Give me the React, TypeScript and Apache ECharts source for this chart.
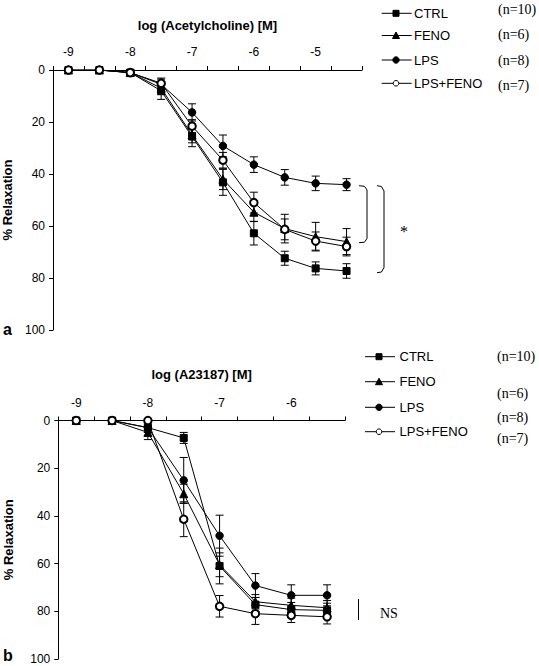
import React, { useEffect, useRef } from 'react';
import * as echarts from 'echarts';

// ---- Panel a: Acetylcholine ----
const catsA = ['-9', '-8.5', '-8', '-7.5', '-7', '-6.5', '-6', '-5.5', '-5', '-4.5'];
const ctrlA = [0, 0, 1, 8, 25.6, 43.2, 62.8, 72.4, 76.3, 77.3];
const ctrlAErr = [0, 0, 1, 3.3, 3.9, 5, 4.5, 2.7, 2.5, 2.8];
const fenoA = [0, 0, 1, 7, 25, 42, 54.7, 61, 64.1, 66];
const fenoAErr = [0, 0, 1, 2.5, 3, 4, 3.5, 5.5, 5.5, 5];
const lpsA = [0, 0, 1, 5.5, 16.3, 29.2, 36.4, 41.3, 43.6, 44.1];
const lpsAErr = [0, 0, 1, 2, 3.3, 4.2, 3, 3, 2.8, 2.3];
const lpsFenoA = [0, 0, 1, 5.1, 21.6, 34.7, 51, 61.3, 65.8, 67.9];
const lpsFenoAErr = [0, 0, 1, 2, 2.5, 3, 4, 4, 3.5, 3.6];

// ---- Panel b: A23187 ----
const catsB = ['-9', '-8.5', '-8', '-7.5', '-7', '-6.5', '-6', '-5.5'];
const ctrlB = [0, 0, 3, 7.3, 61, 77.2, 79.3, 79.6];
const ctrlBErr = [0, 0, 2, 2.3, 7.5, 3, 3, 3];
const fenoB = [0, 0, 5, 30.7, 60.5, 76, 77.5, 78.5];
const fenoBErr = [0, 0, 3, 4, 5, 3, 3, 3];
const lpsB = [0, 0, 3, 25.1, 48.3, 69.2, 73.3, 73.3];
const lpsBErr = [0, 0, 2, 9.6, 8.6, 5, 4.4, 4.4];
const lpsFenoB = [0, 0, 0, 41.4, 77.9, 81, 81.7, 82.3];
const lpsFenoBErr = [0, 0, 0, 7.3, 4.5, 4.5, 3, 3];

const seriesNames = ['CTRL', 'FENO', 'LPS', 'LPS+FENO'];
const nLabels = ['(n=10)', '(n=6)', '(n=8)', '(n=7)'];
const yTicks = [0, 20, 40, 60, 80, 100];

const SANS = 'Arial, "Liberation Sans", sans-serif';
const SERIF = '"Times New Roman", "Liberation Serif", serif';

const symbols: Record<string, { symbol: string; size: number }> = {
  CTRL: { symbol: 'rect', size: 7 },
  FENO: { symbol: 'triangle', size: 8 },
  LPS: { symbol: 'circle', size: 7.5 },
  'LPS+FENO': { symbol: 'emptyCircle', size: 7.5 },
};

function lineSeries(name: string, idx: number, vals: number[]) {
  const s = symbols[name];
  return {
    type: 'line',
    name,
    xAxisIndex: idx,
    yAxisIndex: idx,
    data: vals,
    symbol: s.symbol,
    symbolSize: s.size,
    showAllSymbol: true,
    lineStyle: { color: '#000', width: 1 },
    itemStyle: { color: '#000', borderColor: '#000', borderWidth: 1 },
    z: 3,
    silent: true,
  };
}

function errSeries(name: string, idx: number, vals: number[], errs: number[]) {
  return {
    type: 'custom',
    name: name + ' SEM',
    xAxisIndex: idx,
    yAxisIndex: idx,
    data: vals.map((v, i) => [i, v, errs[i]]),
    encode: { x: 0, y: 1 },
    silent: true,
    z: 2,
    renderItem: (params: any, api: any) => {
      const i = api.value(0);
      const v = api.value(1);
      const e = api.value(2);
      if (!e) return null;
      const p1 = api.coord([i, v - e]);
      const p2 = api.coord([i, v + e]);
      const hw = 4;
      const st = { stroke: '#000', lineWidth: 1 };
      return {
        type: 'group',
        children: [
          { type: 'line', shape: { x1: p1[0], y1: p1[1], x2: p2[0], y2: p2[1] }, style: st },
          { type: 'line', shape: { x1: p1[0] - hw, y1: p1[1], x2: p1[0] + hw, y2: p1[1] }, style: st },
          { type: 'line', shape: { x1: p2[0] - hw, y1: p2[1], x2: p2[0] + hw, y2: p2[1] }, style: st },
        ],
      };
    },
  };
}

function xAxisCfg(cats: string[], idx: number, name: string, gap: number) {
  return {
    type: 'category',
    gridIndex: idx,
    position: 'top',
    data: cats,
    boundaryGap: true,
    name,
    nameLocation: 'middle',
    nameGap: gap,
    nameTextStyle: { fontFamily: SANS, fontSize: 13, fontWeight: 'bold', color: '#000' },
    axisLine: { show: true, lineStyle: { color: '#000', width: 1 } },
    axisTick: { show: true, interval: 0, alignWithLabel: false, length: 4, lineStyle: { color: '#000' } },
    axisLabel: {
      interval: 0,
      margin: 12,
      fontFamily: SANS,
      fontSize: 12,
      color: '#000',
      formatter: (v: string) => (Number.isInteger(Number(v)) ? v : ''),
    },
    splitLine: { show: false },
  };
}

function yAxisCfg(idx: number, gap: number) {
  return {
    type: 'value',
    gridIndex: idx,
    inverse: true,
    min: yTicks[0],
    max: yTicks[yTicks.length - 1],
    interval: 20,
    name: '% Relaxation',
    nameLocation: 'middle',
    nameGap: gap,
    nameRotate: 90,
    nameTextStyle: { fontFamily: SANS, fontSize: 13, fontWeight: 'bold', color: '#000' },
    axisLine: { show: true, lineStyle: { color: '#000', width: 1 } },
    axisTick: { show: true, length: 4, lineStyle: { color: '#000' } },
    axisLabel: { margin: 8, fontFamily: SANS, fontSize: 12, color: '#000' },
    splitLine: { show: false },
  };
}

// Legend drawn as graphic: line + marker + label + (n=..)
function legendMarker(name: string, cx: number, cy: number): any {
  const st = { fill: '#000', stroke: '#000', lineWidth: 1 };
  if (name === 'CTRL') return { type: 'rect', shape: { x: cx - 3, y: cy - 3, width: 6, height: 6 }, style: st };
  if (name === 'FENO')
    return { type: 'polygon', shape: { points: [[cx, cy - 3.5], [cx + 3.5, cy + 3], [cx - 3.5, cy + 3]] }, style: st };
  if (name === 'LPS') return { type: 'circle', shape: { cx, cy, r: 3.2 }, style: st };
  return { type: 'circle', shape: { cx, cy, r: 2.8 }, style: { fill: '#fff', stroke: '#000', lineWidth: 1 } };
}

function legendBlock(x1: number, x2: number, mx: number, tx: number, ys: number[], nx: number, nys: number[]) {
  const out: any[] = [];
  seriesNames.forEach((name, i) => {
    const y = ys[i];
    out.push({ type: 'line', shape: { x1, y1: y, x2, y2: y }, style: { stroke: '#000', lineWidth: 1 } });
    out.push(legendMarker(name, mx, y));
    out.push({ type: 'text', x: tx, y, style: { text: name, font: `13px ${SANS}`, fill: '#000', verticalAlign: 'middle' } });
    out.push({ type: 'text', x: nx, y: nys[i], style: { text: nLabels[i], font: `14px ${SERIF}`, fill: '#000', verticalAlign: 'middle' } });
  });
  return out;
}

export default function App() {
  const ref = useRef<HTMLDivElement>(null);
  useEffect(() => {
    if (!ref.current) return;
    const chart = echarts.init(ref.current, undefined, { renderer: 'svg' });
    const dataA = [ctrlA, fenoA, lpsA, lpsFenoA];
    const errA = [ctrlAErr, fenoAErr, lpsAErr, lpsFenoAErr];
    const dataB = [ctrlB, fenoB, lpsB, lpsFenoB];
    const errB = [ctrlBErr, fenoBErr, lpsBErr, lpsFenoBErr];
    const series: any[] = [];
    seriesNames.forEach((n, k) => {
      series.push(errSeries(n, 0, dataA[k], errA[k]));
      series.push(lineSeries(n, 0, dataA[k]));
      series.push(errSeries(n, 1, dataB[k], errB[k]));
      series.push(lineSeries(n, 1, dataB[k]));
    });

    const bracketStyle = { stroke: '#000', lineWidth: 1, fill: 'none' };
    const graphic: any[] = [
      { type: 'text', left: 3, top: 321, style: { text: 'a', font: `bold 16px ${SANS}`, fill: '#000' } },
      { type: 'text', left: 3, top: 647, style: { text: 'b', font: `bold 16px ${SANS}`, fill: '#000' } },
      ...legendBlock(381.7, 411.7, 396, 414, [13.3, 35.5, 60, 83.3], 498, [9, 34, 60, 85]),
      ...legendBlock(365, 395, 379, 399.5, [356.7, 381.7, 407.3, 431.7], 497, [356, 393, 417, 438]),
      {
        type: 'polyline',
        shape: { points: [[359, 185.7], [364.5, 186.3], [367, 190], [367, 238.5], [364.5, 242.2], [359, 242.7]] },
        style: bracketStyle,
      },
      {
        type: 'polyline',
        shape: { points: [[377, 185.7], [381.5, 186.5], [384, 191], [384, 267.5], [381.5, 272], [377, 272.7]] },
        style: bracketStyle,
      },
      { type: 'text', x: 404, y: 231, style: { text: '*', font: `16px ${SERIF}`, fill: '#000000', align: 'center', verticalAlign: 'middle' } },
      { type: 'line', shape: { x1: 358.5, y1: 599, x2: 358.5, y2: 620 }, style: { stroke: '#000', lineWidth: 1 } },
      { type: 'text', x: 380, y: 613, style: { text: 'NS', font: `14px ${SERIF}`, fill: '#000', verticalAlign: 'middle' } },
    ];

    chart.setOption({
      animation: false,
      backgroundColor: '#fff',
      grid: [
        { left: 53, top: 70, width: 309, height: 260, containLabel: false, outerBoundsMode: 'none' },
        { left: 58.3, top: 420.5, width: 286.7, height: 238.5, containLabel: false, outerBoundsMode: 'none' },
      ],
      xAxis: [
        xAxisCfg(catsA, 0, 'log (Acetylcholine) [M]', 38),
        xAxisCfg(catsB, 1, 'log (A23187) [M]', 40),
      ],
      yAxis: [yAxisCfg(0, 39), yAxisCfg(1, 43)],
      series,
      graphic,
    });
    return () => chart.dispose();
  }, []);
  return <div ref={ref} style={{ position: 'absolute', left: 0, top: 0, width: 539, height: 666 }} />;
}
